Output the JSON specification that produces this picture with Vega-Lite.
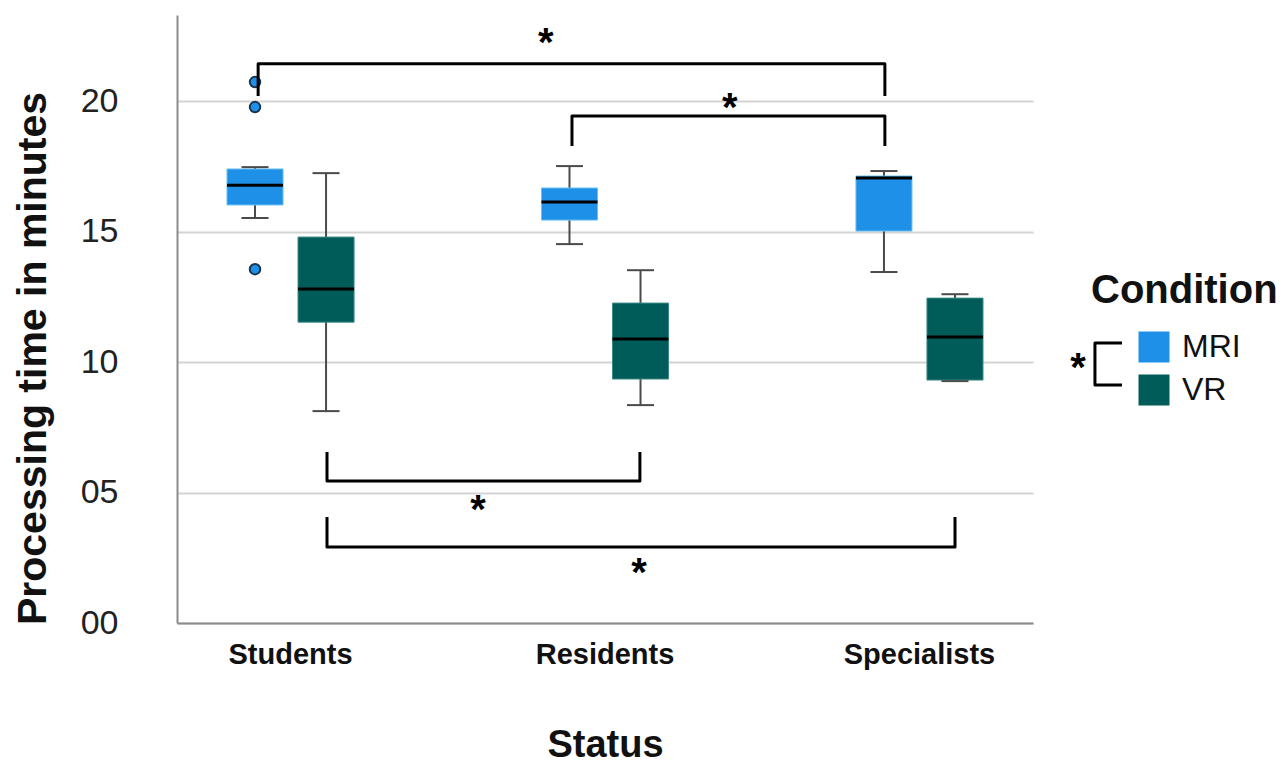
{
  "$schema": "https://vega.github.io/schema/vega-lite/v6.json",
  "width": 856,
  "height": 608,
  "autosize": "none",
  "padding": {"left": 177, "top": 15, "right": 255, "bottom": 140},
  "background": "white",
  "config": {"font": "Liberation Sans", "view": {"stroke": null}},
  "datasets": {
    "boxes": [
      {"status": "Students", "condition": "MRI", "lower": 15.52, "q1": 16.02, "median": 16.78, "q3": 17.40, "upper": 17.47},
      {"status": "Students", "condition": "VR", "lower": 8.12, "q1": 11.53, "median": 12.80, "q3": 14.79, "upper": 17.24},
      {"status": "Residents", "condition": "MRI", "lower": 14.52, "q1": 15.44, "median": 16.13, "q3": 16.67, "upper": 17.51},
      {"status": "Residents", "condition": "VR", "lower": 8.35, "q1": 9.35, "median": 10.88, "q3": 12.26, "upper": 13.52},
      {"status": "Specialists", "condition": "MRI", "lower": 13.45, "q1": 15.02, "median": 17.05, "q3": 17.13, "upper": 17.32},
      {"status": "Specialists", "condition": "VR", "lower": 9.27, "q1": 9.31, "median": 10.96, "q3": 12.45, "upper": 12.60}
    ],
    "outliers": [
      {"status": "Students", "condition": "MRI", "value": 20.73},
      {"status": "Students", "condition": "MRI", "value": 19.77},
      {"status": "Students", "condition": "MRI", "value": 13.56}
    ],
    "brackets": [
      {"id": "A", "i": 0, "x": 0.897, "y": 20.20},
      {"id": "A", "i": 1, "x": 0.897, "y": 21.43},
      {"id": "A", "i": 2, "x": 2.890, "y": 21.43},
      {"id": "A", "i": 3, "x": 2.890, "y": 20.20},
      {"id": "B", "i": 0, "x": 1.895, "y": 18.28},
      {"id": "B", "i": 1, "x": 1.895, "y": 19.43},
      {"id": "B", "i": 2, "x": 2.890, "y": 19.43},
      {"id": "B", "i": 3, "x": 2.890, "y": 18.28},
      {"id": "C", "i": 0, "x": 1.116, "y": 6.55},
      {"id": "C", "i": 1, "x": 1.116, "y": 5.44},
      {"id": "C", "i": 2, "x": 2.111, "y": 5.44},
      {"id": "C", "i": 3, "x": 2.111, "y": 6.55},
      {"id": "D", "i": 0, "x": 1.116, "y": 4.06},
      {"id": "D", "i": 1, "x": 1.116, "y": 2.91},
      {"id": "D", "i": 2, "x": 3.113, "y": 2.91},
      {"id": "D", "i": 3, "x": 3.113, "y": 4.06},
      {"id": "L", "i": 0, "x": 3.644, "y": 10.73},
      {"id": "L", "i": 1, "x": 3.558, "y": 10.73},
      {"id": "L", "i": 2, "x": 3.558, "y": 9.12},
      {"id": "L", "i": 3, "x": 3.644, "y": 9.12}
    ],
    "stars": [
      {"x": 1.812, "y": 22.42},
      {"x": 2.397, "y": 19.93},
      {"x": 1.596, "y": 4.52},
      {"x": 2.108, "y": 2.11},
      {"x": 3.504, "y": 9.95}
    ]
  },
  "layer": [
    {
      "encoding": {
        "x": {
          "field": "status", "type": "nominal", "title": "Status",
          "scale": {"domain": ["Students", "Residents", "Specialists"], "paddingInner": 0.278, "paddingOuter": 0},
          "axis": {
            "labelAngle": 0, "labelFontSize": 29, "labelFontWeight": "bold", "labelColor": "#111111",
            "labelPadding": 17, "ticks": false, "domainColor": "#8c8c8c", "domainWidth": 2, "grid": false,
            "titleFontSize": 38, "titleFontWeight": "bold", "titleColor": "#111111",
            "titleY": 133, "titleBaseline": "alphabetic"
          }
        },
        "xOffset": {
          "field": "condition", "type": "nominal",
          "scale": {"domain": ["MRI", "VR"], "paddingInner": 0.211, "paddingOuter": 0.704}
        }
      },
      "layer": [
        {
          "data": {"name": "boxes"},
          "mark": {"type": "rule", "color": "#4a4a4a", "strokeWidth": 2},
          "encoding": {
            "y": {
              "field": "lower", "type": "quantitative", "title": "Processing time in minutes",
              "scale": {"domain": [0, 23.3], "nice": false, "zero": false},
              "axis": {
                "values": [0, 5, 10, 15, 20],
                "labelExpr": "datum.value < 10 ? '0' + datum.value : '' + datum.value",
                "labelFontSize": 34, "labelColor": "#222222", "labelPadding": 59, "ticks": false,
                "domainColor": "#8c8c8c", "domainWidth": 2, "gridColor": "#d3d3d3", "gridWidth": 2,
                "titleFontSize": 41, "titleFontWeight": "bold", "titleColor": "#111111",
                "titleX": -132, "titleY": 343, "titleAngle": -90, "titleAlign": "center", "titleBaseline": "alphabetic"
              }
            },
            "y2": {"field": "upper"}
          }
        },
        {
          "data": {"name": "boxes"},
          "mark": {"type": "bar", "strokeWidth": 1},
          "encoding": {
            "y": {"field": "q1", "type": "quantitative", "title": "Processing time in minutes"},
            "y2": {"field": "q3"},
            "fill": {
              "field": "condition", "type": "nominal", "title": "Condition",
              "scale": {"domain": ["MRI", "VR"], "range": ["#1e90e8", "#005c58"]},
              "legend": {
                "orient": "none", "legendX": 914, "legendY": 256, "padding": 0,
                "titleFontSize": 40, "titleFontWeight": "bold", "titleColor": "#111111", "titlePadding": 20, "titleLimit": 400,
                "labelFontSize": 32, "labelColor": "#111111", "labelOffset": 12, "labelLimit": 300,
                "symbolType": "square", "symbolSize": 961, "symbolOffset": 47, "symbolStrokeWidth": 0,
                "rowPadding": 11
              }
            },
            "stroke": {
              "field": "condition", "type": "nominal",
              "scale": {"domain": ["MRI", "VR"], "range": ["#6cc0f0", "#3a8a85"]},
              "legend": null
            }
          }
        },
        {
          "data": {"name": "boxes"},
          "mark": {"type": "tick", "color": "#4a4a4a", "thickness": 2, "size": 27, "opacity": 1},
          "encoding": {"y": {"field": "lower", "type": "quantitative", "title": "Processing time in minutes"}}
        },
        {
          "data": {"name": "boxes"},
          "mark": {"type": "tick", "color": "#4a4a4a", "thickness": 2, "size": 27, "opacity": 1},
          "encoding": {"y": {"field": "upper", "type": "quantitative", "title": "Processing time in minutes"}}
        },
        {
          "data": {"name": "boxes"},
          "mark": {"type": "tick", "color": "#000000", "thickness": 3, "size": 56, "opacity": 1},
          "encoding": {"y": {"field": "median", "type": "quantitative", "title": "Processing time in minutes"}}
        },
        {
          "data": {"name": "outliers"},
          "mark": {"type": "point", "filled": true, "fill": "#1e90e8", "stroke": "#1a3550", "strokeWidth": 2, "size": 110, "opacity": 1},
          "encoding": {"y": {"field": "value", "type": "quantitative", "title": "Processing time in minutes"}}
        }
      ]
    },
    {
      "encoding": {
        "x": {"field": "x", "type": "quantitative", "scale": {"domain": [0.639, 3.361], "nice": false, "zero": false}, "axis": null}
      },
      "layer": [
        {
          "data": {"name": "brackets"},
          "mark": {"type": "line", "color": "#000000", "strokeWidth": 3, "strokeJoin": "round", "clip": false},
          "encoding": {
            "y": {"field": "y", "type": "quantitative", "title": "Processing time in minutes"},
            "detail": {"field": "id", "type": "nominal"},
            "order": {"field": "i", "type": "quantitative"}
          }
        },
        {
          "data": {"name": "stars"},
          "mark": {"type": "text", "text": "*", "fontSize": 40, "fontWeight": "bold", "baseline": "alphabetic", "dy": 18, "color": "#000000"},
          "encoding": {
            "y": {"field": "y", "type": "quantitative", "title": "Processing time in minutes"}
          }
        }
      ]
    }
  ],
  "resolve": {"scale": {"x": "independent"}}
}
